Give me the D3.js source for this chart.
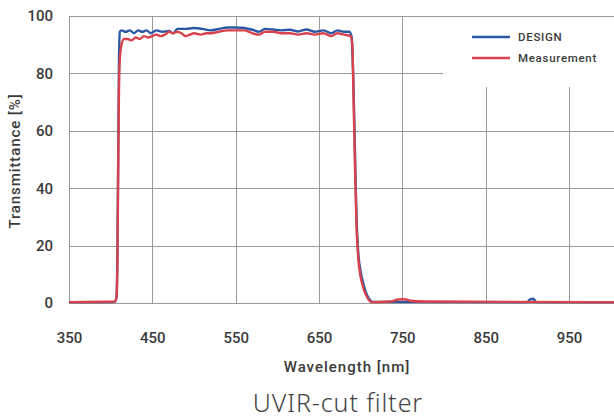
<!DOCTYPE html>
<html>
<head>
<meta charset="utf-8">
<script src="https://cdn.jsdelivr.net/npm/d3@7"></script>
<style>
  body { margin: 0; background: #fff; }
  svg { display: block; }
</style>
</head>
<body>
<div id="chart"></div>
<script>
const width = 614;
const height = 419;

// wavelength [nm] / transmittance [%]
const designWl = [350, 400, 405, 407, 408, 409, 410, 411, 413, 418, 423, 428, 433, 438, 443, 448, 455, 462, 470, 475, 480, 490, 500, 510, 520, 530, 540, 550, 560, 570, 578, 585, 595, 605, 615, 625, 635, 645, 655, 665, 672, 680, 686, 689, 690, 691, 693, 695, 697, 700, 703, 706, 710, 714, 900, 903, 907, 911, 1004];
const designT  = [0.3, 0.3, 0.5, 2, 15, 50, 85, 94.5, 95, 94.5, 95, 94, 95, 94.5, 95, 94, 95, 94.5, 94.8, 94, 95.5, 95.5, 95.8, 95.5, 95, 95.5, 96, 96, 95.8, 95.2, 94.5, 95.5, 95.3, 95, 95.2, 94.6, 95.3, 94.5, 95, 94, 95, 94.5, 94.5, 93, 88, 80, 55, 30, 18, 11, 7, 4, 1.5, 0.4, 0.3, 1.2, 1.5, 0.3, 0.3];

const measWl = [350, 405, 407, 408, 409, 410, 411, 413, 416, 420, 425, 430, 435, 440, 445, 450, 455, 460, 465, 470, 475, 480, 485, 490, 495, 500, 508, 515, 520, 530, 540, 550, 560, 570, 578, 585, 595, 605, 615, 625, 635, 645, 655, 665, 672, 680, 688, 690, 691, 693, 695, 697, 700, 703, 706, 710, 713, 735, 745, 752, 760, 775, 1004];
const measT  = [0.3, 0.5, 2, 12, 45, 75, 85, 90, 92, 92, 91.5, 92.5, 92, 93, 92.5, 93, 93.5, 93, 93.5, 94.5, 94, 94.5, 94, 93, 93.5, 94, 93.5, 94, 94, 94.5, 95, 95, 95, 94, 93.5, 94.5, 94.5, 94, 94, 93.5, 94, 93.5, 94, 93, 94, 93.5, 93, 90, 78, 50, 27, 16, 9, 5.5, 3, 1, 0.3, 0.5, 1.2, 1.3, 0.8, 0.5, 0.3];

const xTicks = [350, 450, 550, 650, 750, 850, 950];
const yTicks = [0, 20, 40, 60, 80, 100];
const seriesNames = ["DESIGN", "Measurement"];
const seriesColors = ["#2b58a5", "#d9424c"];

const margin = { left: 69, right: 0, top: 16, bottom: 116 };

const svg = d3.select("#chart")
    .append("svg")
    .attr("width", width)
    .attr("height", height);

const x = d3.scaleLinear().domain([350, 1004]).range([margin.left, width - margin.right]);
const y = d3.scaleLinear().domain([0, 100]).range([height - margin.bottom, margin.top]);

const gridColor = "#9a9a9a";
const font = "Roboto, 'DejaVu Sans Condensed', sans-serif";

// Grid - the legend box clips a few lines in the upper right
const grid = svg.append("g").attr("stroke", gridColor).attr("stroke-width", 1);
grid.selectAll("line.h")
    .data(yTicks)
    .enter().append("line")
    .attr("x1", x(350))
    .attr("x2", d => d === 80 ? 443 : x.range()[1])
    .attr("y1", d => Math.round(y(d)) + 0.5)
    .attr("y2", d => Math.round(y(d)) + 0.5);

grid.selectAll("line.v")
    .data(xTicks)
    .enter().append("line")
    .attr("x1", d => Math.round(x(d)) + 0.5)
    .attr("x2", d => Math.round(x(d)) + 0.5)
    .attr("y1", d => d >= 850 ? 87 : y(100))
    .attr("y2", y(0));

// Axes (labels only)
const xAxis = svg.append("g")
    .attr("transform", `translate(0,${y(0)})`)
    .call(d3.axisBottom(x).tickValues(xTicks).tickSize(0).tickPadding(29));
const yAxis = svg.append("g")
    .attr("transform", `translate(${margin.left},0)`)
    .call(d3.axisLeft(y).tickValues(yTicks).tickSize(0).tickPadding(16));
[xAxis, yAxis].forEach(a => {
    a.select(".domain").remove();
    a.selectAll("text")
        .attr("font-family", font)
        .attr("font-weight", 500)
        .attr("font-size", 15)
        .attr("fill", "#3a3a3a");
});

// Lines
const line = d3.line()
    .x(d => x(d[0]))
    .y(d => y(d[1]))
    .curve(d3.curveMonotoneX);

const designData = designWl.map((w, i) => [w, designT[i]]);
const measData = measWl.map((w, i) => [w, measT[i]]);

[designData, measData].forEach((data, i) => {
    svg.append("path")
        .datum(data)
        .attr("fill", "none")
        .attr("stroke", seriesColors[i])
        .attr("stroke-width", 2.4)
        .attr("stroke-linejoin", "round")
        .attr("d", line);
});

// Legend
const legend = svg.append("g");
seriesNames.forEach((name, i) => {
    const ly = 37 + i * 21;
    legend.append("line")
        .attr("x1", 472).attr("x2", 510)
        .attr("y1", ly).attr("y2", ly)
        .attr("stroke", seriesColors[i])
        .attr("stroke-width", 2.6);
    legend.append("text")
        .attr("x", 518).attr("y", ly + 4)
        .attr("font-family", font)
        .attr("font-weight", 500)
        .attr("font-size", 11.5)
        .attr("letter-spacing", 0.7)
        .attr("fill", "#3a3a3a")
        .text(name);
});

// Axis titles
svg.append("text")
    .attr("x", 347).attr("y", 372)
    .attr("text-anchor", "middle")
    .attr("font-family", font)
    .attr("font-weight", 500)
    .attr("font-size", 15)
    .attr("letter-spacing", 1)
    .attr("fill", "#3a3a3a")
    .text("Wavelength [nm]");

svg.append("text")
    .attr("transform", "translate(20,161) rotate(-90)")
    .attr("text-anchor", "middle")
    .attr("font-family", font)
    .attr("font-weight", 500)
    .attr("font-size", 15)
    .attr("letter-spacing", 0.9)
    .attr("fill", "#3a3a3a")
    .text("Transmittance [%]");

svg.append("text")
    .attr("x", 338).attr("y", 412)
    .attr("text-anchor", "middle")
    .attr("font-family", "'Noto Sans', sans-serif")
    .attr("font-weight", 300)
    .attr("font-size", 25)
    .attr("letter-spacing", 0.9)
    .attr("fill", "#444")
    .text("UVIR-cut filter");
</script>
</body>
</html>
